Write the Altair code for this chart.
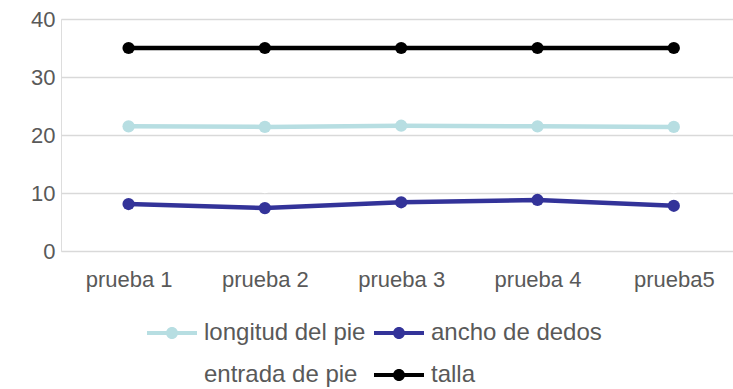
import altair as alt
import pandas as pd

# Measurements per trial
trials = ["prueba 1", "prueba 2", "prueba 3", "prueba 4", "prueba5"]
longitud_del_pie = [21.5, 21.4, 21.6, 21.5, 21.4]
ancho_de_dedos = [8.1, 7.4, 8.4, 8.8, 7.8]
entrada_de_pie = [11.3, 11.0, 11.3, 11.4, 11.0]
talla = [35, 35, 35, 35, 35]

series_names = ["longitud del pie", "ancho de dedos", "entrada de pie", "talla"]
series_colors = ["#B7DEE2", "#333399", "#FFFFFF", "#000000"]

rows = []
for name, values in zip(series_names, [longitud_del_pie, ancho_de_dedos, entrada_de_pie, talla]):
    for trial, v in zip(trials, values):
        rows.append({"prueba": trial, "valor": v, "serie": name})
df = pd.DataFrame(rows)

FONT = "Liberation Sans"
TEXT = "#595959"
FS = 22
LEGEND_FS = 24

# Legend glyph: a short line with a dot in the middle
legend_symbol = (
    "M-1,-0.08 L1,-0.08 L1,0.08 L-1,0.08 Z "
    "M0.24,0 A0.24,0.24 0 1,1 -0.24,0 A0.24,0.24 0 1,1 0.24,0 Z"
)

legend = alt.Legend(
    title=None, orient="none", legendX=86, legendY=289,
    direction="horizontal", columns=2,
    symbolType=legend_symbol, symbolSize=2500,
    symbolStrokeWidth=0, symbolOpacity=1,
    labelFontSize=LEGEND_FS, labelColor=TEXT, labelFont=FONT, labelLimit=400,
    labelOffset=7, columnPadding=8, rowPadding=5,
)

color_enc = alt.Color("serie:N", sort=series_names,
                      scale=alt.Scale(domain=series_names, range=series_colors),
                      legend=legend)

x_enc = alt.X(
    "prueba:N",
    sort=trials,
    scale=alt.Scale(type="point", padding=0.465, align=0.533),
    axis=alt.Axis(title=None, labelAngle=0, domain=False, ticks=False, grid=False,
                  labelFontSize=FS, labelColor=TEXT, labelFont=FONT, labelPadding=18),
)
y_enc = alt.Y(
    "valor:Q",
    scale=alt.Scale(domain=[0, 40], nice=False),
    axis=alt.Axis(title=None, values=[0, 10, 20, 30, 40], domain=False, ticks=False,
                  gridColor="#D9D9D9", gridWidth=1.6, labelFontSize=FS,
                  labelColor=TEXT, labelFont=FONT, labelPadding=6),
)

lines = alt.Chart(df).mark_line(strokeWidth=4.5).encode(
    x=x_enc, y=y_enc, color=color_enc,
)

points = alt.Chart(df).mark_point(filled=True, size=150, opacity=1, shape="circle").encode(
    x=x_enc, y=y_enc, color=color_enc,
)

chart = (
    alt.layer(lines, points)
    .properties(
        width=672, height=232,
        padding={"left": 61, "top": 19, "right": 0, "bottom": 138},
        autosize=alt.AutoSizeParams(type="none"),
    )
    .configure_view(stroke=None)
    .configure(background="white")
)

chart.save("out.html", embed_options={"renderer": "svg", "actions": False})
